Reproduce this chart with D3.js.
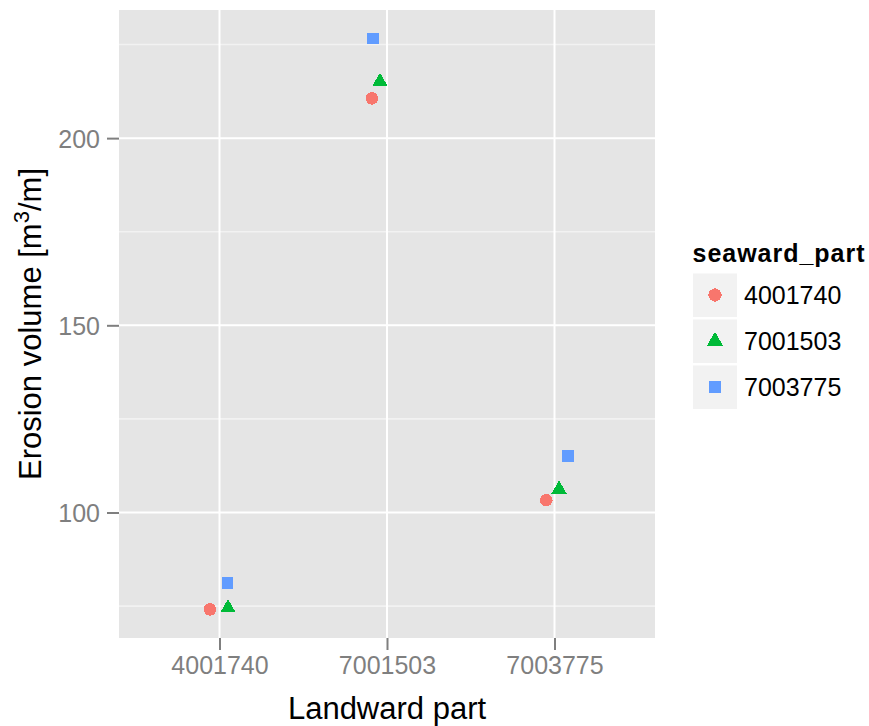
<!DOCTYPE html>
<html>
<head>
<meta charset="utf-8">
<script src="https://cdnjs.cloudflare.com/ajax/libs/d3/7.8.5/d3.min.js"></script>
<style>
	body { margin: 0; background: #fff; }
	text { font-family: "Liberation Sans", Arial, sans-serif; }
</style>
</head>
<body>
<div id="chart"></div>
<script>
// Categories on the x axis (landward part) and the legend groups (seaward part)
var landward = ['4001740', '7001503', '7003775'];
var seaward = ['4001740', '7001503', '7003775'];

// Erosion volume per seaward group, one value per landward category
var erosion4001740 = [74.1, 210.6, 103.3];
var erosion7001503 = [74.5, 215.1, 106.2];
var erosion7003775 = [81.1, 226.6, 115.1];

// Horizontal jitter of each point, in category steps
var jitter4001740 = [-0.057, -0.090, -0.049];
var jitter7001503 = [0.051, -0.042, 0.027];
var jitter7003775 = [0.048, -0.084, 0.081];

var yTicks = [100, 150, 200];
var yMinor = [75, 125, 175, 225];

var colors = ['#F8766D', '#00BA38', '#619CFF'];
var shapes = [d3.symbolCircle, d3.symbolTriangle, d3.symbolSquare];
var shapeSizes = [125, 102, 134];

var values = [erosion4001740, erosion7001503, erosion7003775];
var jitters = [jitter4001740, jitter7001503, jitter7003775];

var width = 869, height = 726;
var panel = { left: 119, top: 10, right: 655, bottom: 638 };

var svg = d3.select('#chart').append('svg')
	.attr('width', width)
	.attr('height', height);

// ggplot style: continuous axis expanded 5% on each side
var all = d3.merge(values);
var ext = d3.extent(all);
var pad = (ext[1] - ext[0]) * 0.05;

var y = d3.scaleLinear()
	.domain([ext[0] - pad, ext[1] + pad])
	.range([panel.bottom, panel.top]);

var x = d3.scalePoint()
	.domain(landward)
	.range([panel.left, panel.right])
	.padding(0.6);

// panel background
svg.append('rect')
	.attr('x', panel.left)
	.attr('y', panel.top)
	.attr('width', panel.right - panel.left)
	.attr('height', panel.bottom - panel.top)
	.attr('fill', '#E5E5E5');

// minor grid
svg.selectAll('.minor')
	.data(yMinor)
	.enter()
	.append('line')
	.attr('x1', panel.left).attr('x2', panel.right)
	.attr('y1', function(d) { return y(d); })
	.attr('y2', function(d) { return y(d); })
	.attr('stroke', '#F2F2F2')
	.attr('stroke-width', 1.6);

// major grid
svg.selectAll('.hmajor')
	.data(yTicks)
	.enter()
	.append('line')
	.attr('x1', panel.left).attr('x2', panel.right)
	.attr('y1', function(d) { return y(d); })
	.attr('y2', function(d) { return y(d); })
	.attr('stroke', '#FFFFFF')
	.attr('stroke-width', 2);

svg.selectAll('.vmajor')
	.data(landward)
	.enter()
	.append('line')
	.attr('y1', panel.top).attr('y2', panel.bottom)
	.attr('x1', function(d) { return x(d); })
	.attr('x2', function(d) { return x(d); })
	.attr('stroke', '#FFFFFF')
	.attr('stroke-width', 2);

// axes
var yAxis = d3.axisLeft(y).tickValues(yTicks).tickSize(12).tickPadding(7);
var xAxis = d3.axisBottom(x).tickSize(12).tickPadding(6);

var gy = svg.append('g')
	.attr('transform', 'translate(' + panel.left + ',0)')
	.call(yAxis);
var gx = svg.append('g')
	.attr('transform', 'translate(0,' + panel.bottom + ')')
	.call(xAxis);

[gx, gy].forEach(function(g) {
	g.select('.domain').remove();
	g.selectAll('.tick line').attr('stroke', '#7F7F7F').attr('stroke-width', 2);
	g.selectAll('.tick text')
		.attr('fill', '#7F7F7F')
		.style('font-size', '25px')
		.style('font-family', '"Liberation Sans", Arial, sans-serif');
});
gy.selectAll('.tick text').attr('dy', '0.36em');
gx.selectAll('.tick text').attr('dy', '0.72em');

// points
seaward.forEach(function(s, gi) {
	var sym = d3.symbol().type(shapes[gi]).size(shapeSizes[gi]);
	svg.append('g').selectAll('path')
		.data(landward)
		.enter()
		.append('path')
		.attr('d', sym)
		.attr('shape-rendering', 'crispEdges')
		.attr('fill', colors[gi])
		.attr('transform', function(d, i) {
			var px = x(d) + jitters[gi][i] * x.step();
			return 'translate(' + px + ',' + y(values[gi][i]) + ')';
		});
});

// axis titles
svg.append('text')
	.attr('x', x(landward[1]))
	.attr('y', 719)
	.attr('text-anchor', 'middle')
	.style('font-size', '31px')
	.text('Landward part');

var ytitle = svg.append('text')
	.attr('transform', 'translate(41,' + ((panel.top + panel.bottom) / 2) + ') rotate(-90)')
	.attr('text-anchor', 'middle')
	.style('font-size', '31px');
ytitle.append('tspan').text('Erosion volume [m');
ytitle.append('tspan').attr('dy', -12).style('font-size', '22px').text('3');
ytitle.append('tspan').attr('dy', 12).text('/m]');

// legend
var legend = svg.append('g');
legend.append('text')
	.attr('x', 692.5)
	.attr('y', 262)
	.style('font-size', '25px')
	.style('font-weight', 'bold')
	.attr('textLength', 172)
	.text('seaward_part');

var keys = legend.selectAll('.key')
	.data(seaward)
	.enter()
	.append('g')
	.attr('transform', function(d, i) { return 'translate(693,' + (273.5 + i * 46) + ')'; });

keys.append('rect')
	.attr('width', 44)
	.attr('height', 43.5)
	.attr('fill', '#F2F2F2');

keys.append('path')
	.attr('d', function(d, i) { return d3.symbol().type(shapes[i]).size(shapeSizes[i] * 1.1)(); })
	.attr('shape-rendering', 'crispEdges')
	.attr('fill', function(d, i) { return colors[i]; })
	.attr('transform', 'translate(22,21.5)');

keys.append('text')
	.attr('x', 51)
	.attr('y', 21.5)
	.attr('dy', '0.36em')
	.style('font-size', '25px')
	.text(function(d) { return d; });
</script>
</body>
</html>
